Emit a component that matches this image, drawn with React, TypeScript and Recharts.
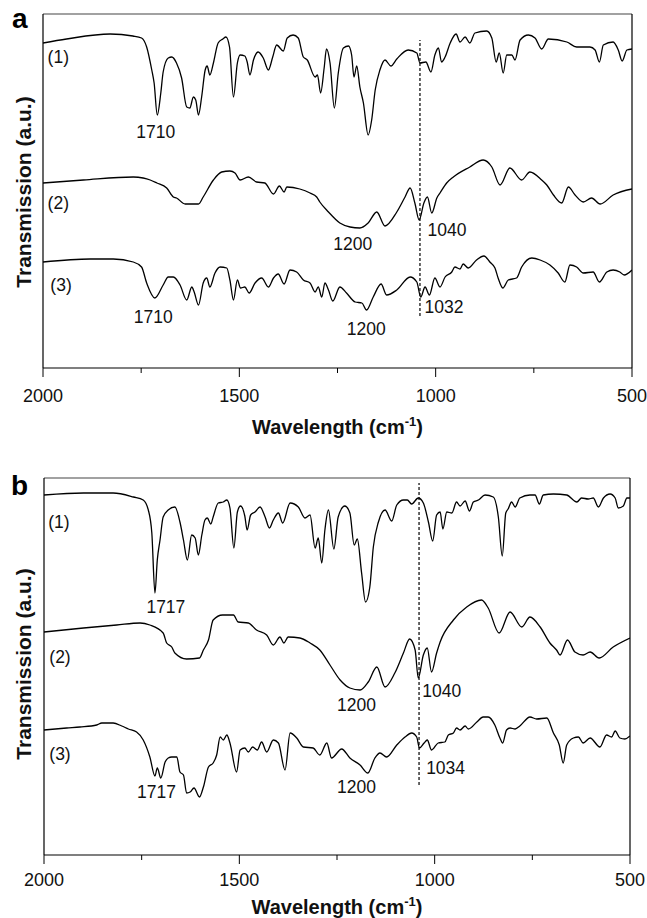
import React from 'react';
import { LineChart, Line, XAxis, YAxis, ReferenceLine, ReferenceDot } from 'recharts';

type Pt = [number, number];

// Panel a — wavenumber (cm-1), transmission (a.u.)
const A1: Pt[] = [[2000,325],[1940,329],[1829,334],[1771,332],[1749,330],[1736,321],[1723,298],[1717,285],[1709,253],[1700,275],[1694,296],[1681,310],[1672,311],[1660,305],[1647,290],[1634,261],[1626,260],[1617,271],[1611,268],[1604,253],[1596,271],[1587,298],[1582,302],[1575,293],[1566,305],[1554,325],[1542,329],[1534,331],[1525,321],[1515,271],[1505,305],[1498,313],[1486,312],[1480,306],[1473,293],[1464,308],[1452,316],[1439,310],[1426,298],[1415,311],[1405,323],[1388,317],[1378,330],[1363,333],[1350,330],[1337,311],[1327,308],[1307,291],[1301,293],[1293,275],[1284,300],[1278,319],[1269,305],[1258,260],[1248,295],[1235,320],[1222,322],[1214,313],[1208,291],[1201,302],[1193,281],[1184,265],[1172,233],[1163,248],[1154,278],[1142,298],[1129,308],[1114,302],[1099,309],[1070,318],[1048,315],[1040,305],[1025,306],[1012,296],[1002,313],[993,320],[985,306],[976,311],[963,325],[948,334],[938,326],[925,331],[913,325],[900,335],[870,337],[857,330],[846,306],[838,315],[828,295],[819,313],[806,313],[798,308],[785,328],[764,333],[747,330],[730,319],[713,329],[666,326],[641,321],[607,321],[594,318],[583,306],[573,323],[548,326],[535,318],[525,307],[513,318],[500,319]];
const A2: Pt[] = [[2000,185],[1897,188],[1770,191],[1745,190],[1727,188],[1710,185],[1685,180],[1668,171],[1660,170],[1638,164],[1604,164],[1592,171],[1566,188],[1545,196],[1524,197],[1511,195],[1498,188],[1477,191],[1456,186],[1435,185],[1413,174],[1398,182],[1386,176],[1379,181],[1346,179],[1320,175],[1303,171],[1295,166],[1273,156],[1244,145],[1218,141],[1193,140],[1172,145],[1150,156],[1129,142],[1099,156],[1078,171],[1065,180],[1053,165],[1042,148],[1030,165],[1021,171],[1010,155],[997,170],[989,175],[972,185],[955,191],[913,201],[879,208],[857,201],[836,183],[811,200],[781,188],[760,196],[730,188],[717,183],[700,173],[679,165],[662,181],[645,173],[624,166],[603,170],[581,164],[548,173],[500,179]];
const A3: Pt[] = [[2000,106],[1880,109],[1821,109],[1770,106],[1749,101],[1736,85],[1715,70],[1694,83],[1681,91],[1668,91],[1651,83],[1634,68],[1621,81],[1615,76],[1604,63],[1592,85],[1583,90],[1575,81],[1562,95],[1549,101],[1532,100],[1524,88],[1515,68],[1505,88],[1497,80],[1486,81],[1475,75],[1460,85],[1443,90],[1426,81],[1413,90],[1401,94],[1386,84],[1371,98],[1354,96],[1337,88],[1320,85],[1307,76],[1299,81],[1290,71],[1282,85],[1273,78],[1262,67],[1244,81],[1227,75],[1205,66],[1188,65],[1176,58],[1159,71],[1139,84],[1125,73],[1099,78],[1065,91],[1048,86],[1038,71],[1027,81],[1016,73],[1002,90],[989,81],[976,91],[959,96],[951,101],[938,99],[930,104],[917,100],[896,108],[877,112],[862,106],[849,100],[841,90],[829,80],[815,88],[794,90],[781,101],[755,110],[734,108],[709,103],[688,95],[671,86],[658,103],[641,101],[624,95],[599,96],[583,86],[564,96],[548,98],[531,96],[520,93],[500,98]];

// Panel b
const B1: Pt[] = [[2000,360],[1899,362],[1823,362],[1771,358],[1746,355],[1733,345],[1724,322],[1716,262],[1710,295],[1703,315],[1695,338],[1682,345],[1665,348],[1652,333],[1643,315],[1633,295],[1622,320],[1613,317],[1605,300],[1596,320],[1588,335],[1582,337],[1573,331],[1567,338],[1554,352],[1541,353],[1532,355],[1524,347],[1514,307],[1505,343],[1497,349],[1486,339],[1480,325],[1471,340],[1460,343],[1447,348],[1434,338],[1423,327],[1413,335],[1400,342],[1389,332],[1370,352],[1349,348],[1332,337],[1319,340],[1306,307],[1298,317],[1289,292],[1281,325],[1272,345],[1258,306],[1247,338],[1230,349],[1217,342],[1206,310],[1198,316],[1187,282],[1177,253],[1166,268],[1157,308],[1144,333],[1127,345],[1110,334],[1097,350],[1080,355],[1070,355],[1059,351],[1042,357],[1029,352],[1016,333],[1005,314],[995,340],[986,343],[979,326],[969,343],[956,342],[944,353],[935,349],[922,354],[911,344],[901,353],[888,355],[871,360],[850,358],[837,338],[827,299],[818,342],[812,346],[803,353],[794,348],[782,357],[756,360],[743,360],[732,351],[722,360],[696,361],[662,360],[636,353],[624,357],[607,356],[594,357],[581,348],[568,357],[551,361],[538,357],[530,347],[517,349],[508,357],[500,357]];
const B2: Pt[] = [[2000,223],[1899,227],[1814,230],[1754,232],[1729,230],[1695,222],[1686,212],[1673,208],[1665,202],[1635,196],[1602,197],[1592,205],[1579,215],[1567,235],[1543,240],[1515,240],[1503,233],[1477,232],[1456,225],[1430,220],[1413,210],[1396,218],[1386,212],[1375,218],[1345,217],[1319,212],[1294,205],[1268,190],[1242,175],[1217,167],[1191,165],[1170,173],[1148,188],[1127,168],[1102,182],[1080,202],[1064,216],[1050,205],[1042,177],[1029,200],[1019,207],[1008,183],[995,202],[986,213],[952,235],[918,248],[880,255],[863,247],[835,222],[807,243],[777,228],[756,238],[730,228],[705,212],[688,205],[679,200],[660,215],[641,203],[620,200],[602,203],[579,197],[543,208],[500,217]];
const B3: Pt[] = [[2000,125],[1942,127],[1908,128],[1865,130],[1852,132],[1823,132],[1801,129],[1784,126],[1763,123],[1746,115],[1729,98],[1716,79],[1710,87],[1701,77],[1690,93],[1682,97],[1673,98],[1660,98],[1652,83],[1643,80],[1635,62],[1626,63],[1616,67],[1602,58],[1592,68],[1579,88],[1567,92],[1558,100],[1549,118],[1541,115],[1532,120],[1524,112],[1507,83],[1498,105],[1486,107],[1477,103],[1466,108],[1454,105],[1443,113],[1430,103],[1413,115],[1400,112],[1383,85],[1370,122],[1353,117],[1336,108],[1311,107],[1294,100],[1276,112],[1264,97],[1238,106],[1217,97],[1191,90],[1171,82],[1153,97],[1140,102],[1123,98],[1097,110],[1076,118],[1059,122],[1046,118],[1039,107],[1027,112],[1019,115],[1008,105],[991,112],[974,113],[965,120],[952,122],[944,127],[935,125],[922,129],[914,126],[892,133],[876,138],[863,138],[846,130],[833,117],[826,112],[816,125],[807,127],[794,126],[782,129],[756,138],[739,136],[713,137],[696,122],[681,110],[671,92],[662,110],[645,117],[632,118],[620,112],[602,117],[577,108],[560,120],[547,118],[538,124],[526,117],[513,116],[500,119]];

// Annotations: [text, wavenumber, transmission]
const NOTES_A: [string, number, number][] = [["(1)",1961,311],["(2)",1961,165],["(3)",1954,83],["1710",1713,236],["1200",1211,124],["1040",971,138],["1710",1719,51],["1200",1177,39],["1032",979,61]];
const NOTES_B: [string, number, number][] = [["(1)",1962,333],["(2)",1959,198],["(3)",1959,101],["1717",1688,248],["1200",1200,150],["1040",982,164],["1717",1712,63],["1200",1200,68],["1034",972,87]];

// Dashed marker lines: [wavenumber, from, to]
const DASH_A: [number, number, number] = [1040, 52, 328];
const DASH_B: [number, number, number] = [1040, 70, 372];

const X_TICKS = [2000, 1750, 1500, 1250, 1000, 750, 500];
const X_MAJOR = [2000, 1500, 1000, 500];
const TOP_TICKS = [1750, 1500, 1250, 1000, 750];
const Y_TICKS_A = [0, 34, 68, 101, 135, 169, 203, 237, 270, 304, 338];

const FONT = '"Liberation Sans", Arial, Helvetica, sans-serif';

const toRows = (pts: Pt[]) => pts.map(([w, t]) => ({ w, t }));

const makeBottomTick = (labelDy: number) => (props: any) => {
  const { x, y, payload } = props;
  const major = X_MAJOR.includes(payload.value);
  return (
    <g>
      <line x1={x} x2={x} y1={y} y2={y + (major ? 9 : 5)} stroke="#000" strokeWidth={1} />
      {major && (
        <text x={x} y={y + labelDy} textAnchor="middle" fontSize={18} fontFamily={FONT} fill="#111">
          {payload.value}
        </text>
      )}
    </g>
  );
};

interface PanelProps {
  height: number;
  margin: { top: number; right: number; bottom: number; left: number };
  xAxisHeight: number;
  yMax: number;
  yTicks: number[];
  frameTicks: boolean;
  series: Pt[][];
  notes: [string, number, number][];
  dash: [number, number, number];
  labelDy: number;
  titleDy: number;
}

function Panel(p: PanelProps) {
  const frameTickLine = p.frameTicks ? { stroke: '#000', strokeWidth: 1 } : false;
  return (
    <LineChart width={647} height={p.height} margin={p.margin}>
      <XAxis
        xAxisId={0}
        type="number"
        dataKey="w"
        domain={[500, 2000]}
        reversed
        ticks={X_TICKS}
        interval={0}
        height={p.xAxisHeight}
        tickSize={0}
        tickMargin={0}
        tickLine={false}
        axisLine={{ stroke: '#000', strokeWidth: 1.2 }}
        tick={makeBottomTick(p.labelDy)}
        allowDataOverflow
        label={{
          content: (lp: any) => {
            const vb = lp.viewBox || {};
            return (
              <text x={vb.x + vb.width / 2} y={vb.y + p.titleDy} textAnchor="middle" fontSize={20} fontWeight="bold" fontFamily={FONT} fill="#111">
                Wavelength (cm
                <tspan dy={-8} fontSize={13}>-1</tspan>
                <tspan dy={8}>)</tspan>
              </text>
            );
          },
        }}
      />
      <XAxis
        xAxisId="top"
        orientation="top"
        type="number"
        domain={[500, 2000]}
        reversed
        ticks={p.frameTicks ? TOP_TICKS : []}
        interval={0}
        height={1}
        tickSize={p.frameTicks ? -4 : 0}
        tickLine={frameTickLine}
        tick={false}
        axisLine={{ stroke: '#444', strokeWidth: 1.2 }}
        allowDataOverflow
      />
      <YAxis
        yAxisId={0}
        type="number"
        domain={[0, p.yMax]}
        ticks={p.yTicks}
        interval={0}
        width={1}
        tickSize={p.frameTicks ? -4 : 0}
        tickLine={frameTickLine}
        tick={false}
        axisLine={{ stroke: '#000', strokeWidth: 1.2 }}
        allowDataOverflow
      />
      <YAxis
        yAxisId="right"
        orientation="right"
        type="number"
        domain={[0, p.yMax]}
        ticks={p.yTicks}
        interval={0}
        width={1}
        tickSize={p.frameTicks ? -4 : 0}
        tickLine={frameTickLine}
        tick={false}
        axisLine={{ stroke: '#000', strokeWidth: 1.2 }}
        allowDataOverflow
      />
      {p.series.map((s, i) => (
        <Line
          key={i}
          data={toRows(s)}
          dataKey="t"
          type="monotone"
          stroke="#000"
          strokeWidth={1.3}
          dot={false}
          activeDot={false}
          isAnimationActive={false}
        />
      ))}
      <ReferenceLine
        segment={[{ x: p.dash[0], y: p.dash[1] }, { x: p.dash[0], y: p.dash[2] }]}
        stroke="#000"
        strokeWidth={1.2}
        strokeDasharray="3 2"
      />
      {p.notes.map(([txt, w, t], i) => (
        <ReferenceDot
          key={i}
          x={w}
          y={t}
          r={1}
          fill="none"
          stroke="none"
          label={{ value: txt, position: 'center', fontSize: 17.5, fontFamily: FONT, fill: '#111' }}
        />
      ))}
    </LineChart>
  );
}

export default function App() {
  return (
    <div style={{ position: 'absolute', left: 0, top: 0, width: 647, height: 918, background: '#fff', overflow: 'hidden' }}>
      <div style={{ position: 'absolute', left: 0, top: 0 }}>
        <Panel
          height={440}
          margin={{ top: 13, right: 14, bottom: 0, left: 42 }}
          xAxisHeight={72}
          yMax={354}
          yTicks={Y_TICKS_A}
          frameTicks
          series={[A1, A2, A3]}
          notes={NOTES_A}
          dash={DASH_A}
          labelDy={34}
          titleDy={66}
        />
      </div>
      <div style={{ position: 'absolute', left: 0, top: 460 }}>
        <Panel
          height={458}
          margin={{ top: 17, right: 16, bottom: 0, left: 43 }}
          xAxisHeight={63}
          yMax={377}
          yTicks={[]}
          frameTicks={false}
          series={[B1, B2, B3]}
          notes={NOTES_B}
          dash={DASH_B}
          labelDy={31}
          titleDy={59}
        />
      </div>
      <svg width={647} height={918} style={{ position: 'absolute', left: 0, top: 0, pointerEvents: 'none' }}>
        <text x={12} y={28} fontSize={28} fontWeight="bold" fontFamily={FONT} fill="#000">a</text>
        <text x={11} y={495} fontSize={28} fontWeight="bold" fontFamily={FONT} fill="#000">b</text>
        <text x={31} y={192} transform="rotate(-90, 31, 192)" textAnchor="middle" fontSize={21} fontWeight="bold" fontFamily={FONT} fill="#111">Transmission (a.u.)</text>
        <text x={31} y={664} transform="rotate(-90, 31, 664)" textAnchor="middle" fontSize={21} fontWeight="bold" fontFamily={FONT} fill="#111">Transmission (a.u.)</text>
      </svg>
    </div>
  );
}
